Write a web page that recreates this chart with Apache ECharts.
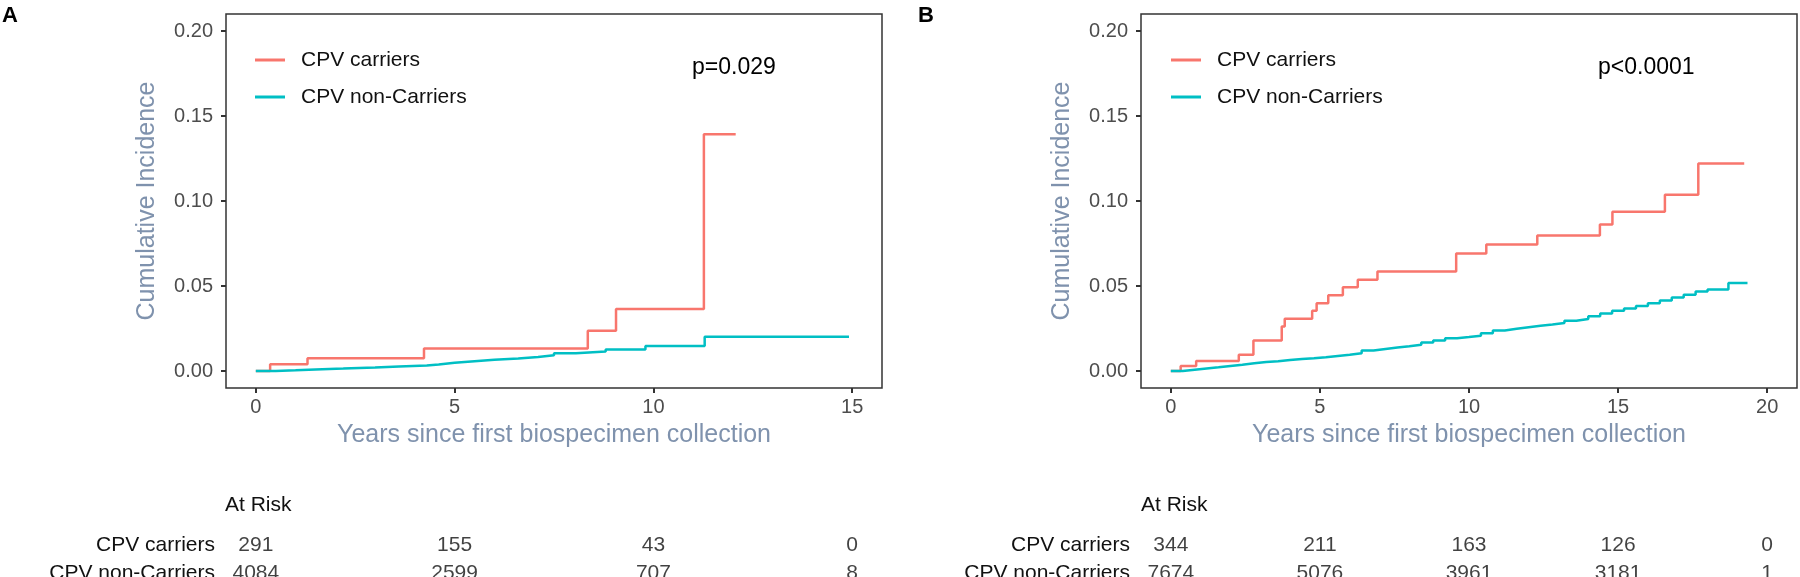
<!DOCTYPE html>
<html>
<head>
<meta charset="utf-8">
<script src="https://cdn.jsdelivr.net/npm/echarts@6/dist/echarts.min.js"></script>
<style>
html,body{margin:0;padding:0;background:#fff;}
#chart{width:1800px;height:577px;}
</style>
</head>
<body>
<div id="chart"></div>
<script>
// ---------------- DATA ----------------
const seriesNames = ['CPV carriers', 'CPV non-Carriers'];
const yTicks = [0, 0.05, 0.10, 0.15, 0.20];
const xTicksA = [0, 5, 10, 15];
const xTicksB = [0, 5, 10, 15, 20];

// Panel A
const carriersA_time = [0, 0.36, 1.30, 4.23, 8.35, 9.06, 11.27, 12.07];
const carriersA_cif  = [0, 0.0040, 0.0075, 0.0133, 0.0237, 0.0365, 0.1393, 0.1393];
const nonCarriersA_time = [0, 0.5, 1.0, 1.5, 2.2, 3.0, 3.6, 4.3, 4.6, 5.0, 5.5, 6.0, 6.6, 7.1, 7.5, 8.05, 8.8, 9.8, 11.29, 14.92];
const nonCarriersA_cif  = [0, 0.0004, 0.0009, 0.0014, 0.0020, 0.0026, 0.0032, 0.0038, 0.0048, 0.0058, 0.0066, 0.0074, 0.0082, 0.0092, 0.0104, 0.0114, 0.0126, 0.0147, 0.0202, 0.0202];
const pValueA = 'p=0.029';
const atRiskA_time = [0, 5, 10, 15];
const atRiskA_carriers = [291, 155, 43, 0];
const atRiskA_nonCarriers = [4084, 2599, 707, 8];

// Panel B
const carriersB_time = [0, 0.33, 0.85, 2.28, 2.77, 3.72, 3.82, 4.74, 4.89, 5.28, 5.77, 6.27, 6.93, 9.57, 10.58, 12.29, 14.39, 14.81, 16.57, 17.69, 19.23];
const carriersB_cif  = [0, 0.0030, 0.0059, 0.0096, 0.0179, 0.0262, 0.0307, 0.0354, 0.0398, 0.0445, 0.0492, 0.0537, 0.0585, 0.0691, 0.0744, 0.0797, 0.0862, 0.0937, 0.1037, 0.1220, 0.1220];
const nonCarriersB_time = [0, 0.4, 0.8, 1.2, 1.6, 2.0, 2.4, 2.8, 3.2, 3.6, 4.0, 4.4, 4.8, 5.2, 5.6, 6.0, 6.4, 6.8, 7.2, 7.6, 8.0, 8.4, 8.8, 9.2, 9.6, 10.0, 10.4, 10.8, 11.2, 11.6, 12.0, 12.4, 12.8, 13.2, 13.6, 14.0, 14.4, 14.8, 15.2, 15.6, 16.0, 16.4, 16.8, 17.2, 17.6, 18.0, 18.7, 19.34];
const nonCarriersB_cif  = [0, 0.0008, 0.0015, 0.0022, 0.0030, 0.0037, 0.0045, 0.0053, 0.0058, 0.0064, 0.0070, 0.0075, 0.0081, 0.0088, 0.0095, 0.0105, 0.0120, 0.0130, 0.0138, 0.0146, 0.0155, 0.0167, 0.0180, 0.0193, 0.0200, 0.0208, 0.0222, 0.0238, 0.0248, 0.0258, 0.0266, 0.0273, 0.0283, 0.0295, 0.0306, 0.0322, 0.0338, 0.0355, 0.0368, 0.0383, 0.0398, 0.0415, 0.0432, 0.0448, 0.0468, 0.0480, 0.0518, 0.0518];
const pValueB = 'p<0.0001';
const atRiskB_time = [0, 5, 10, 15, 20];
const atRiskB_carriers = [344, 211, 163, 126, 0];
const atRiskB_nonCarriers = [7674, 5076, 3961, 3181, 1];

const xTitle = 'Years since first biospecimen collection';
const yTitle = 'Cumulative Incidence';
const atRiskTitle = 'At Risk';
const panelLabels = ['A', 'B'];

// ---------------- STYLE ----------------
const RED = '#F8766D', TEAL = '#00BFC4';
const FONT = "'Liberation Sans', Arial, Helvetica, sans-serif";
const TITLE_COLOR = '#7f92ad';
const TICK_COLOR = '#4d4d4d';

const zip = (a, b) => a.map((v, i) => [v, b[i]]);

const plotGrids = [
  {left: 226, top: 14, width: 656, height: 374},
  {left: 1141, top: 14, width: 656, height: 374}
];
const tableGrids = [
  {left: 226, top: 531, width: 656, height: 56},
  {left: 1141, top: 531, width: 656, height: 56}
];

function plotX(idx, min, max, ticks) {
  return {
    type: 'value', gridIndex: idx, min: min, max: max,
    axisLine: {show: false, onZero: false},
    splitLine: {show: false},
    axisTick: {show: true, customValues: ticks, length: 5, lineStyle: {color: '#333', width: 2}},
    axisLabel: {customValues: ticks, margin: 9, color: TICK_COLOR, fontSize: 20, fontFamily: FONT}
  };
}
function plotY(idx) {
  return {
    type: 'value', gridIndex: idx, min: -0.01, max: 0.21,
    axisLine: {show: false, onZero: false},
    splitLine: {show: false},
    axisTick: {show: true, customValues: yTicks, length: 5, lineStyle: {color: '#333', width: 2}},
    axisLabel: {customValues: yTicks, margin: 13, color: TICK_COLOR, fontSize: 20, fontFamily: FONT,
      formatter: v => v.toFixed(2)}
  };
}
function tableX(idx, min, max) {
  return {type: 'value', gridIndex: idx, min: min, max: max, show: false};
}
function tableY(idx) {
  return {
    type: 'category', gridIndex: idx, data: seriesNames, inverse: true,
    axisLine: {show: false, onZero: false}, axisTick: {show: false}, splitLine: {show: false},
    axisLabel: {margin: 11, color: '#111', fontSize: 21, fontFamily: FONT}
  };
}
function lineSeries(name, ax, t, v, color) {
  return {
    type: 'line', name: name, xAxisIndex: ax, yAxisIndex: ax, step: 'end',
    symbol: 'none', showSymbol: false, silent: true,
    lineStyle: {color: color, width: 2.5}, itemStyle: {color: color},
    data: zip(t, v)
  };
}
function tableSeries(ax, times, counts, rowName) {
  return {
    type: 'scatter', xAxisIndex: ax, yAxisIndex: ax, symbolSize: 0, silent: true,
    label: {show: true, position: 'inside', color: '#111', fontSize: 21, fontFamily: FONT,
      formatter: p => String(p.value[2])},
    data: times.map((t, i) => [t, rowName, counts[i]])
  };
}
function txt(text, x, y, size, color, opts) {
  opts = opts || {};
  return {
    type: 'text', x: x, y: y, rotation: opts.rotation || 0, silent: true,
    style: {text: text, fill: color, font: (opts.bold ? 'bold ' : '') + size + 'px ' + FONT,
      align: opts.align || 'left', verticalAlign: opts.va || 'middle'}
  };
}
function legendAt(left) {
  return {left: left, top: 49, padding: 0, orient: 'vertical', icon: 'rect', itemWidth: 30, itemHeight: 3, itemGap: 15,
    data: seriesNames, selectedMode: false,
    textStyle: {fontSize: 21, fontFamily: FONT, color: '#111', lineHeight: 22, padding: [0, 0, 0, 11]}};
}

const option = {
  animation: false,
  backgroundColor: '#fff',
  grid: plotGrids.map(g => Object.assign({show: true, borderColor: '#333', borderWidth: 1.5, backgroundColor: 'transparent', outerBoundsMode: 'none'}, g))
    .concat(tableGrids.map(g => Object.assign({show: false, outerBoundsMode: 'none'}, g))),
  xAxis: [plotX(0, -0.75, 15.75, xTicksA), plotX(1, -1, 21, xTicksB), tableX(2, -0.75, 15.75), tableX(3, -1, 21)],
  yAxis: [plotY(0), plotY(1), tableY(2), tableY(3)],
  legend: [legendAt(255), legendAt(1171)],
  series: [
    lineSeries(seriesNames[0], 0, carriersA_time, carriersA_cif, RED),
    lineSeries(seriesNames[1], 0, nonCarriersA_time, nonCarriersA_cif, TEAL),
    lineSeries(seriesNames[0], 1, carriersB_time, carriersB_cif, RED),
    lineSeries(seriesNames[1], 1, nonCarriersB_time, nonCarriersB_cif, TEAL),
    tableSeries(2, atRiskA_time, atRiskA_carriers, seriesNames[0]),
    tableSeries(2, atRiskA_time, atRiskA_nonCarriers, seriesNames[1]),
    tableSeries(3, atRiskB_time, atRiskB_carriers, seriesNames[0]),
    tableSeries(3, atRiskB_time, atRiskB_nonCarriers, seriesNames[1])
  ],
  graphic: [
    txt(panelLabels[0], 2, 16, 22, '#000', {bold: true}),
    txt(panelLabels[1], 918, 16, 22, '#000', {bold: true}),
    txt(pValueA, 692, 68, 23, '#000'),
    txt(pValueB, 1598, 68, 23, '#000'),
    txt(yTitle, 147, 201, 25, TITLE_COLOR, {rotation: Math.PI / 2, align: 'center'}),
    txt(yTitle, 1062, 201, 25, TITLE_COLOR, {rotation: Math.PI / 2, align: 'center'}),
    txt(xTitle, 554, 435, 25, TITLE_COLOR, {align: 'center'}),
    txt(xTitle, 1469, 435, 25, TITLE_COLOR, {align: 'center'}),
    txt(atRiskTitle, 225, 505, 21, '#111'),
    txt(atRiskTitle, 1141, 505, 21, '#111')
  ]
};

const chart = echarts.init(document.getElementById('chart'), null, {renderer: 'canvas'});
chart.setOption(option);
</script>
</body>
</html>
